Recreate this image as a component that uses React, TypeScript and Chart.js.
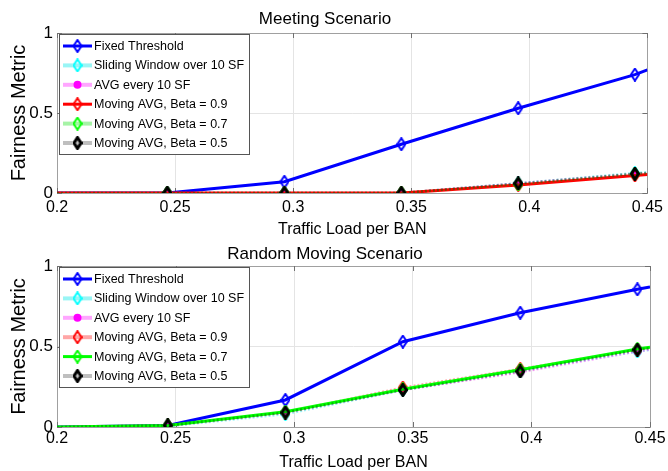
import React, { useEffect, useRef } from 'react';
import { Chart, registerables } from 'chart.js';
Chart.register(...registerables);

// ---------- data ----------
const xValues = [0.2, 0.2467, 0.2963, 0.3458, 0.3953, 0.4447, 0.45];
const markerShown = [false, true, true, true, true, true, false];
const xTicks = [0.2, 0.25, 0.3, 0.35, 0.4, 0.45];
const xTickLabels = ['0.2', '0.25', '0.3', '0.35', '0.4', '0.45'];
const yTicks = [0, 0.5, 1];
const yTickLabels = ['0', '0.5', '1'];
const seriesNames = [
  'Fixed Threshold',
  'Sliding Window over 10 SF',
  'AVG every 10 SF',
  'Moving AVG, Beta = 0.9',
  'Moving AVG, Beta = 0.7',
  'Moving AVG, Beta = 0.5',
];
const meetingTitle = 'Meeting Scenario';
const randomTitle = 'Random Moving Scenario';
const xAxisTitle = 'Traffic Load per BAN';
const yAxisTitle = 'Fairness Metric';

const meetingFixed = [0, 0, 0.07, 0.305, 0.53, 0.74, 0.77];
const meetingSliding = [0, 0, 0, 0, 0.06, 0.125, 0.13];
const meetingAvg = [0, 0, 0, 0, 0.06, 0.12, 0.125];
const meetingBeta09 = [0, 0, 0, 0, 0.05, 0.11, 0.115];
const meetingBeta07 = [0, 0, 0, 0, 0.055, 0.12, 0.125];
const meetingBeta05 = [0, 0, 0, 0, 0.06, 0.12, 0.125];

const randomFixed = [0, 0.01, 0.168, 0.53, 0.71, 0.855, 0.87];
const randomSliding = [0, 0.005, 0.08, 0.23, 0.35, 0.47, 0.48];
const randomAvg = [0, 0.005, 0.09, 0.23, 0.34, 0.47, 0.48];
const randomBeta09 = [0, 0.01, 0.09, 0.245, 0.36, 0.48, 0.49];
const randomBeta07 = [0, 0.01, 0.095, 0.235, 0.355, 0.485, 0.495];
const randomBeta05 = [0, 0.01, 0.09, 0.23, 0.345, 0.48, 0.49];

// ---------- styles ----------
const FONT = "'Liberation Sans', Arial, Helvetica, sans-serif";
const colors = ['#0000ff', '#00ffff', '#ff00ff', '#ff0000', '#00ff00', '#000000'];
const fadedColors = [
  'rgba(0,0,255,0.4)',
  'rgba(0,230,230,0.4)',
  'rgba(255,0,255,0.35)',
  'rgba(255,0,0,0.35)',
  'rgba(0,220,0,0.35)',
  'rgba(0,0,0,0.25)',
];

function diamond(stroke: string, lw: number, w = 10, h = 14): HTMLCanvasElement {
  const c = document.createElement('canvas');
  c.width = w;
  c.height = h;
  const ctx = c.getContext('2d')!;
  ctx.lineWidth = lw;
  ctx.strokeStyle = stroke;
  const m = lw / 2;
  ctx.beginPath();
  ctx.moveTo(w / 2, m);
  ctx.lineTo(w - m, h / 2);
  ctx.lineTo(w / 2, h - m);
  ctx.lineTo(m, h / 2);
  ctx.closePath();
  ctx.stroke();
  return c;
}

type Cfg = {
  title: string;
  series: number[][];
  solid: boolean[];
  titlePadTop: number;
  titlePadBottom: number;
  xAxisHeight: number;
  tickPad: number;
  xTitlePadBottom: number;
};

function buildDatasets(series: number[][], solid: boolean[]) {
  const markers: any[] = [
    diamond(colors[0], 2),
    diamond(colors[1], 2),
    'circle',
    diamond(colors[3], 2),
    diamond(colors[4], 2),
    diamond(colors[5], 3),
  ];
  return series.map((vals, i) => ({
    label: seriesNames[i],
    data: xValues.map((x, j) => ({ x, y: vals[j] })),
    borderColor: solid[i] ? colors[i] : fadedColors[i],
    backgroundColor: colors[i],
    borderWidth: solid[i] ? 3 : 2.5,
    borderDash: solid[i] ? [] : [2, 2],
    pointStyle: markers[i],
    pointRadius: markerShown.map((s) => (s ? (i === 2 ? 4 : 5) : 0)),
    pointBackgroundColor: colors[i],
    pointBorderWidth: 0,
    order: series.length - i,
    tension: 0,
  }));
}

const framePlugin = {
  id: 'frame',
  beforeDatasetsDraw(chart: any) {
    const { ctx, chartArea: a, scales } = chart;
    ctx.save();
    ctx.strokeStyle = '#a0a0a0';
    ctx.lineWidth = 1;
    ctx.strokeRect(Math.round(a.left) + 0.5, Math.round(a.top) + 0.5, Math.round(a.right - a.left), Math.round(a.bottom - a.top));
    ctx.strokeStyle = '#707070';
    xTicks.forEach((v) => {
      const px = Math.round(scales.x.getPixelForValue(v)) + 0.5;
      ctx.beginPath();
      ctx.moveTo(px, a.bottom);
      ctx.lineTo(px, a.bottom - 5);
      ctx.moveTo(px, a.top);
      ctx.lineTo(px, a.top + 5);
      ctx.stroke();
    });
    yTicks.forEach((v) => {
      const py = Math.round(scales.y.getPixelForValue(v)) + 0.5;
      ctx.beginPath();
      ctx.moveTo(a.left, py);
      ctx.lineTo(a.left + 5, py);
      ctx.moveTo(a.right, py);
      ctx.lineTo(a.right - 5, py);
      ctx.stroke();
    });
    ctx.restore();
  },
};

const legendPlugin = {
  id: 'boxLegend',
  afterDatasetsDraw(chart: any) {
    const { ctx, chartArea: a } = chart;
    const x0 = a.left + 2;
    const y0 = a.top + 1;
    const w = 190;
    const rowH = 19.4;
    const h = 120;
    ctx.save();
    ctx.fillStyle = '#ffffff';
    ctx.fillRect(x0, y0, w, h);
    ctx.strokeStyle = '#555555';
    ctx.lineWidth = 1;
    ctx.strokeRect(Math.round(x0) + 0.5, Math.round(y0) + 0.5, w, h);
    chart.data.datasets.forEach((ds: any, i: number) => {
      const cy = y0 + 12 + i * rowH;
      ctx.save();
      ctx.strokeStyle = ds.borderColor;
      ctx.lineWidth = ds.borderDash && ds.borderDash.length ? 4 : ds.borderWidth;
      ctx.beginPath();
      ctx.moveTo(x0 + 4, cy);
      ctx.lineTo(x0 + 33, cy);
      ctx.stroke();
      ctx.restore();
      const cx = x0 + 18.5;
      const ps = ds.pointStyle;
      if (typeof ps === 'string') {
        ctx.fillStyle = ds.pointBackgroundColor;
        ctx.beginPath();
        ctx.arc(cx, cy, 4, 0, Math.PI * 2);
        ctx.fill();
      } else {
        ctx.drawImage(ps, cx - ps.width / 2, cy - ps.height / 2);
      }
      ctx.fillStyle = '#000000';
      ctx.font = `12.5px ${FONT}`;
      ctx.textBaseline = 'middle';
      ctx.textAlign = 'left';
      ctx.fillText(ds.label, x0 + 35, cy + 0.5);
    });
    ctx.restore();
  },
};

function makeConfig(c: Cfg): any {
  return {
    type: 'line',
    data: { datasets: buildDatasets(c.series, c.solid) },
    plugins: [framePlugin, legendPlugin],
    options: {
      responsive: false,
      animation: false,
      events: [],
      layout: { padding: { left: 0, right: 18, top: 0, bottom: 0 } },
      plugins: {
        legend: { display: false },
        tooltip: { enabled: false },
        title: {
          display: true,
          text: c.title,
          color: '#000',
          font: { family: FONT, size: 17, weight: 'normal', lineHeight: 1.2 },
          padding: { top: c.titlePadTop, bottom: c.titlePadBottom },
        },
      },
      scales: {
        x: {
          type: 'linear',
          min: 0.2,
          max: 0.45,
          afterBuildTicks: (s: any) => {
            s.ticks = xTicks.map((v) => ({ value: v }));
          },
          afterFit: (s: any) => {
            s.height = c.xAxisHeight;
          },
          ticks: {
            autoSkip: false,
            maxRotation: 0,
            padding: c.tickPad,
            color: '#000',
            font: { family: FONT, size: 16 },
            callback: (_v: any, i: number) => xTickLabels[i],
          },
          grid: { color: '#e4e4e4', drawTicks: false, lineWidth: 1 },
          border: { display: false },
          title: {
            display: true,
            text: xAxisTitle,
            color: '#000',
            font: { family: FONT, size: 16, lineHeight: 1 },
            padding: { top: 0, bottom: c.xTitlePadBottom },
          },
        },
        y: {
          type: 'linear',
          min: 0,
          max: 1,
          afterBuildTicks: (s: any) => {
            s.ticks = yTicks.map((v) => ({ value: v }));
          },
          afterFit: (s: any) => {
            s.width = 57;
          },
          ticks: {
            padding: 4,
            color: '#000',
            font: { family: FONT, size: 17 },
            callback: (_v: any, i: number) => yTickLabels[i],
          },
          grid: { color: '#e4e4e4', drawTicks: false, lineWidth: 1 },
          border: { display: false },
          title: {
            display: true,
            text: yAxisTitle,
            color: '#000',
            font: { family: FONT, size: 20, lineHeight: 1 },
            padding: { top: 9, bottom: 0 },
          },
        },
      },
    },
  };
}

function ChartCanvas({ cfg, top, height }: { cfg: Cfg; top: number; height: number }) {
  const ref = useRef<HTMLCanvasElement>(null);
  useEffect(() => {
    if (!ref.current) return;
    const chart = new Chart(ref.current, makeConfig(cfg));
    return () => chart.destroy();
  }, []);
  return (
    <canvas
      ref={ref}
      width={668}
      height={height}
      style={{ position: 'absolute', left: 0, top, width: 668, height, display: 'block' }}
    />
  );
}

export default function App() {
  const meeting: Cfg = {
    title: meetingTitle,
    series: [meetingFixed, meetingSliding, meetingAvg, meetingBeta09, meetingBeta07, meetingBeta05],
    solid: [true, false, false, true, false, false],
    titlePadTop: 9,
    titlePadBottom: 3.6,
    xAxisHeight: 49,
    tickPad: 5,
    xTitlePadBottom: 4,
  };
  const random: Cfg = {
    title: randomTitle,
    series: [randomFixed, randomSliding, randomAvg, randomBeta09, randomBeta07, randomBeta05],
    solid: [true, false, false, false, true, false],
    titlePadTop: 2.6,
    titlePadBottom: 1,
    xAxisHeight: 44,
    tickPad: 2,
    xTitlePadBottom: 0,
  };
  return (
    <div style={{ position: 'absolute', left: 0, top: 0, width: 668, height: 471, background: '#fff' }}>
      <ChartCanvas cfg={meeting} top={0} height={242} />
      <ChartCanvas cfg={random} top={242} height={229} />
    </div>
  );
}
